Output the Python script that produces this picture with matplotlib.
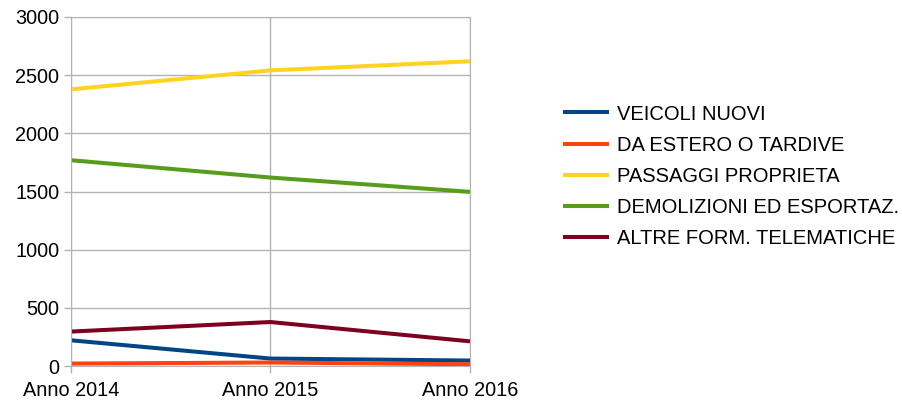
import matplotlib
matplotlib.use("Agg")
import matplotlib.pyplot as plt

plt.rcParams['font.family'] = ['Liberation Sans', 'DejaVu Sans']

categories = ["Anno 2014", "Anno 2015", "Anno 2016"]
series_names = ["VEICOLI NUOVI", "DA ESTERO O TARDIVE", "PASSAGGI PROPRIETA",
                "DEMOLIZIONI ED ESPORTAZ.", "ALTRE FORM. TELEMATICHE"]
veicoli_nuovi = [221, 64, 47]
da_estero = [21, 30, 15]
passaggi = [2378, 2541, 2619]
demolizioni = [1769, 1620, 1497]
altre_form = [296, 378, 212]
colors = ["#004586", "#ff420e", "#ffd320", "#579d1c", "#7e0021"]
yticks = [0, 500, 1000, 1500, 2000, 2500, 3000]

fig = plt.figure(figsize=(9.03, 4.05), dpi=100)
ax = fig.add_axes([71/903, 1-366/405, (470-71)/903, (366-17)/405])

x = list(range(len(categories)))
for vals, name, c in zip([veicoli_nuovi, da_estero, passaggi, demolizioni, altre_form],
                         series_names, colors):
    ax.plot(x, vals, color=c, lw=2.9, label=name, solid_capstyle='butt')

ax.set_xlim(0, 2)
ax.set_ylim(0, 3000)
ax.set_yticks(yticks)
ax.set_xticks(x)
ax.set_xticklabels(categories)
ax.grid(True, color="#b3b3b3", lw=1)
ax.set_axisbelow(True)
for s in ax.spines.values():
    s.set_color("#b3b3b3")
ax.tick_params(axis='both', colors="#b3b3b3", labelcolor="black", labelsize=14.3, length=5, width=1)
ax.tick_params(axis='x', pad=6)

handles, labels = ax.get_legend_handles_labels()
leg = fig.legend(handles, labels, loc='upper left', bbox_to_anchor=(563/903, 1-104.5/405),
                 frameon=False, fontsize=14.5, handlelength=2.28, handletextpad=0.4,
                 labelspacing=0.6, borderaxespad=0, borderpad=0)
for l in leg.get_lines():
    l.set_linewidth(2.9)

fig.savefig("out.png", dpi=100)
